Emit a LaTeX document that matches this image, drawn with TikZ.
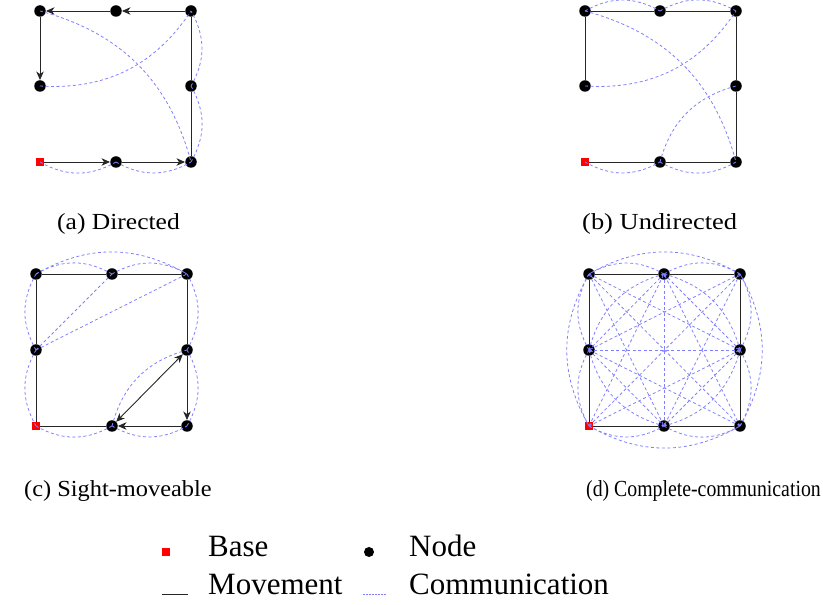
\documentclass[tikz,border=0pt]{standalone}
\usepackage{fontspec}
\setmainfont{Liberation Serif}
\usetikzlibrary{arrows.meta}
\begin{document}
\begin{tikzpicture}[x=1pt,y=1pt,
  nd/.style={circle,fill=black,minimum size=11.5pt,inner sep=0pt},
  bs/.style={rectangle,fill=red,minimum size=8pt,inner sep=0pt},
  mv/.style={draw=black!85,line width=0.9pt},
  arr/.style={mv,-{Stealth[length=8.5pt,width=7.5pt,inset=2.5pt]}},
  barr/.style={mv,{Stealth[length=8.5pt,width=7.5pt,inset=2.5pt]}-{Stealth[length=8.5pt,width=7.5pt,inset=2.5pt]}},
  comm/.style={draw=blue!50,dash pattern=on 3pt off 2.5pt,line width=0.8pt},
  captxt/.style={anchor=base west,font=\fontsize{23}{27}\selectfont,inner sep=0pt},
  legtxt/.style={anchor=base west,font=\fontsize{31}{37}\selectfont,inner sep=0pt}]
\useasboundingbox (0,0) rectangle (823,605);

% ---------- panel (a) ----------
\node[bs] (a1) at (40,443) {};
\node[nd] (a2) at (116,443) {};
\node[nd] (a3) at (191,443) {};
\node[nd] (a4) at (191,519) {};
\node[nd] (a5) at (191,594) {};
\node[nd] (a6) at (116,594) {};
\node[nd] (a7) at (40,594) {};
\node[nd] (a8) at (40,519) {};
\draw[arr] (a1) -- (a2);
\draw[arr] (a2) -- (a3);
\draw[mv] (a3) -- (a4);
\draw[mv] (a4) -- (a5);
\draw[arr] (a5) -- (a6);
\draw[arr] (a6) -- (a7);
\draw[arr] (a7) -- (a8);
\draw[comm] (a1.center) to[bend right] (a2.center);
\draw[comm] (a2.center) to[bend right] (a3.center);
\draw[comm] (a3.center) to[bend right] (a4.center);
\draw[comm] (a4.center) to[bend right] (a5.center);
\draw[comm] (a7.center) to[bend left] (a3.center);
\draw[comm] (a8.center) to[bend right] (a5.center);

% ---------- panel (b) ----------
\node[bs] (b1) at (585,443) {};
\node[nd] (b2) at (660,443) {};
\node[nd] (b3) at (736,443) {};
\node[nd] (b4) at (736,519) {};
\node[nd] (b5) at (736,594) {};
\node[nd] (b6) at (660,594) {};
\node[nd] (b7) at (585,594) {};
\node[nd] (b8) at (585,519) {};
\draw[mv] (b1) -- (b2);
\draw[mv] (b2) -- (b3);
\draw[mv] (b3) -- (b4);
\draw[mv] (b4) -- (b5);
\draw[mv] (b5) -- (b6);
\draw[mv] (b6) -- (b7);
\draw[mv] (b7) -- (b8);
\draw[comm] (b1.center) to[bend right] (b2.center);
\draw[comm] (b2.center) to[bend right] (b3.center);
\draw[comm] (b7.center) to[bend left] (b6.center);
\draw[comm] (b6.center) to[bend left] (b5.center);
\draw[comm] (b7.center) to[bend left] (b3.center);
\draw[comm] (b8.center) to[bend right] (b5.center);
\draw[comm] (b2.center) to[bend left] (b4.center);

% ---------- panel (c) ----------
\node[bs] (c1) at (36,179) {};
\node[nd] (c2) at (112,179) {};
\node[nd] (c3) at (187,179) {};
\node[nd] (c4) at (187,255) {};
\node[nd] (c5) at (187,331) {};
\node[nd] (c6) at (112,331) {};
\node[nd] (c7) at (36,331) {};
\node[nd] (c8) at (36,255) {};
\draw[mv] (c1) -- (c2);
\draw[arr] (c3) -- (c2);
\draw[arr] (c4) -- (c3);
\draw[barr] (c2) -- (c4);
\draw[mv] (c4) -- (c5);
\draw[mv] (c5) -- (c6);
\draw[mv] (c6) -- (c7);
\draw[mv] (c7) -- (c8);
\draw[mv] (c8) -- (c1);
\draw[comm] (c7.center) to[bend left] (c6.center);
\draw[comm] (c6.center) to[bend left] (c5.center);
\draw[comm] (c7.center) to[bend left] (c5.center);
\draw[comm] (c7.center) to[bend right] (c8.center);
\draw[comm] (c8.center) to[bend right] (c1.center);
\draw[comm] (c8.center) -- (c6.center);
\draw[comm] (c8.center) -- (c5.center);
\draw[comm] (c5.center) to[bend left] (c4.center);
\draw[comm] (c4.center) to[bend left] (c3.center);
\draw[comm] (c1.center) to[bend right] (c2.center);
\draw[comm] (c2.center) to[bend right] (c3.center);
\draw[comm] (c2.center) to[bend left] (c4.center);

% ---------- panel (d) ----------
\node[bs] (d1) at (589,179) {};
\node[nd] (d2) at (664,179) {};
\node[nd] (d3) at (740,179) {};
\node[nd] (d4) at (740,255) {};
\node[nd] (d5) at (740,331) {};
\node[nd] (d6) at (664,331) {};
\node[nd] (d7) at (589,331) {};
\node[nd] (d8) at (589,255) {};
\draw[mv] (d1) -- (d2);
\draw[mv] (d2) -- (d3);
\draw[mv] (d3) -- (d4);
\draw[mv] (d4) -- (d5);
\draw[mv] (d5) -- (d6);
\draw[mv] (d6) -- (d7);
\draw[mv] (d7) -- (d8);
\draw[mv] (d8) -- (d1);
% perimeter neighbours and same-side corners, bent outward
\foreach \i/\j in {1/2,2/3,3/4,4/5,5/6,6/7,7/8,8/1,1/3,3/5,5/7,7/1}
  \draw[comm] (d\i.center) to[bend right] (d\j.center);
% middles of neighbouring sides: straight and bent
\foreach \i/\j in {2/4,4/6,6/8,8/2}
  {\draw[comm] (d\i.center) -- (d\j.center);
   \draw[comm] (d\i.center) to[bend right] (d\j.center);}
% straight chords
\foreach \i/\j in {2/6,4/8,1/5,3/7,1/4,1/6,3/6,3/8,5/8,5/2,7/2,7/4}
  \draw[comm] (d\i.center) -- (d\j.center);

% ---------- captions ----------
\node[captxt] (ca) at (57,375) {\scalebox{1.11}[1]{(a) Directed}};
\node[captxt] (cb) at (582,375) {\scalebox{1.15}[1]{(b) Undirected}};
\node[captxt] (cc) at (24,108) {\scalebox{1.06}[1]{(c) Sight-moveable}};
\node[captxt] (cd) at (586,108) {\scalebox{0.86}[1]{(d) Complete-communication}};

% ---------- legend ----------
\node[bs] (lb) at (166,53) {};
\node[legtxt] (lbt) at (208,48) {Base};
\node[nd,minimum size=10pt] (ln) at (369,53) {};
\node[legtxt] (lnt) at (409,48) {Node};
\coordinate (lm1) at (162,11);
\coordinate (lm2) at (188,11);
\draw[mv] (lm1) -- (lm2);
\node[legtxt] (lmt) at (208,10) {Movement};
\coordinate (lc1) at (363,11);
\coordinate (lc2) at (387,11);
\draw[comm,dash pattern=on 1.5pt off 1.5pt,line width=0.6pt] (lc1) -- (lc2);
\node[legtxt] (lct) at (409,10) {Communication};
\end{tikzpicture}
\end{document}
